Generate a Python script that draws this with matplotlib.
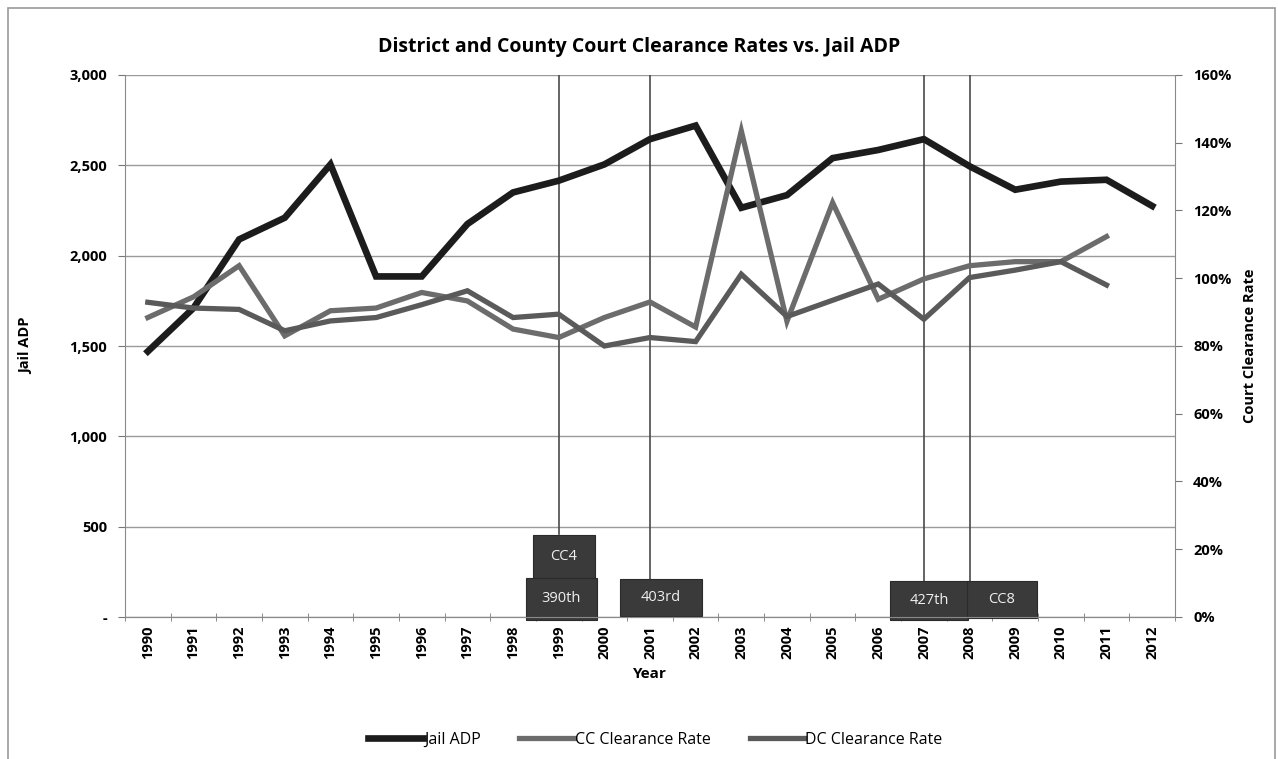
import numpy as np
import matplotlib
matplotlib.use("Agg")
import matplotlib.pyplot as plt
from matplotlib.patches import Rectangle
from matplotlib.ticker import FuncFormatter, MultipleLocator, FixedLocator

plt.rcParams["font.family"] = ["Open Sans", "DejaVu Sans"]

# data
years = list(range(1990, 2013))
jail_adp = [1470, 1710, 2090, 2210, 2505, 1885, 1885, 2175, 2350, 2415, 2505, 2645,
            2720, 2265, 2335, 2540, 2585, 2645, 2495, 2365, 2410, 2420, 2275]
cc_rate = [0.884, 0.945, 1.037, 0.830, 0.904, 0.912, 0.958, 0.933, 0.850, 0.825, 0.884, 0.930,
           0.856, 1.435, 0.873, 1.223, 0.938, 0.998, 1.037, 1.049, 1.049, 1.123, np.nan]
dc_rate = [0.929, 0.912, 0.908, 0.845, 0.874, 0.884, 0.922, 0.963, 0.884, 0.894, 0.800, 0.825,
           0.813, 1.012, 0.887, 0.935, 0.983, 0.879, 1.002, 1.024, 1.049, 0.980, np.nan]
event_years = [1999, 2001, 2007, 2008]

# annotation box layout: (label, x centre in category units, y centre in ADP units, w, h)
box_layout = [
    ("CC4", 9.11, 335, 1.36, 238),
    ("390th", 9.06, 100, 1.56, 232),
    ("403rd", 11.24, 108, 1.80, 205),
    ("427th", 17.11, 94, 1.71, 216),
    ("CC8", 18.71, 97, 1.53, 205),
]
event_tops = {1999: 458, 2001: 212, 2007: 200, 2008: 200}

JAIL = "#1c1c1c"
CC = "#6c6c6c"
DC = "#5a5a5a"
GRID = "#9a9a9a"

fig = plt.figure(figsize=(12.78, 7.59), dpi=100)
ax = fig.add_axes([125 / 1278, 1 - 617 / 759, 1050 / 1278, 542 / 759])
ax2 = ax.twinx()

x = np.arange(len(years))

# event markers
for yr in event_years:
    i = years.index(yr)
    ax.plot([i, i], [event_tops[yr], 3000], color="#4a4a4a", lw=1.2, zorder=2)
for lab, cx, cy, w, h in box_layout:
    ax.add_patch(Rectangle((cx - w / 2, cy - h / 2), w, h, facecolor="#3a3a3a",
                           edgecolor="#2a2a2a", lw=0.8, zorder=3, clip_on=False))
    ax.text(cx, cy, lab, ha="center", va="center", color="#f0f0f0", fontsize=10.5,
            zorder=4, clip_on=False)

l1, = ax.plot(x, jail_adp, color=JAIL, lw=4.8, solid_joinstyle="miter", zorder=5, label="Jail ADP")
l2, = ax2.plot(x, cc_rate, color=CC, lw=3.8, solid_joinstyle="miter", label="CC Clearance Rate")
l3, = ax2.plot(x, dc_rate, color=DC, lw=3.8, solid_joinstyle="miter", label="DC Clearance Rate")

ax.set_xlim(-0.5, len(years) - 0.5)
ax.set_ylim(0, 3000)
ax2.set_ylim(0, 1.6)

ax.yaxis.set_major_locator(MultipleLocator(500))
ax.yaxis.set_major_formatter(FuncFormatter(lambda v, p: "-" if v == 0 else f"{int(v):,}"))
ax2.yaxis.set_major_locator(MultipleLocator(0.2))
ax2.yaxis.set_major_formatter(FuncFormatter(lambda v, p: f"{v * 100:.0f}%"))
ax.grid(axis="y", color=GRID, lw=1.0)
ax.set_axisbelow(True)

ax.set_xticks(x)
ax.set_xticklabels([str(y) for y in years], rotation=90, fontweight="bold", fontsize=10.5)
ax.xaxis.set_minor_locator(FixedLocator(np.arange(-0.5, len(years), 1.0)))
ax.tick_params(axis="x", which="major", length=0, pad=6)
ax.tick_params(axis="x", which="minor", length=6, direction="inout", color="#777777")
ax.tick_params(axis="y", length=5, color="#777777", labelsize=10.5, pad=8)
ax2.tick_params(axis="y", length=5, color="#777777", labelsize=10.5, pad=8)
for lab in ax.get_yticklabels() + ax2.get_yticklabels():
    lab.set_fontweight("bold")

for a in (ax, ax2):
    a.spines["top"].set_visible(False)
    for s in ("left", "right", "bottom"):
        a.spines[s].set_color("#8a8a8a")
ax.spines["right"].set_visible(False)
ax2.spines["left"].set_visible(False)

ax.set_xlabel("Year", fontweight="bold", fontsize=11, labelpad=6)
ax.set_ylabel("Jail ADP", fontweight="bold", fontsize=10.5, labelpad=26)
ax2.set_ylabel("Court Clearance Rate", fontweight="bold", fontsize=10.5, labelpad=8)
fig.text(0.5, 1 - 47 / 759, "District and County Court Clearance Rates vs. Jail ADP",
         ha="center", va="center", fontweight="bold", fontsize=14)

fig.legend(handles=[l1, l2, l3], loc="center", bbox_to_anchor=(0.513, 1 - 740 / 759),
           ncol=3, frameon=False, fontsize=11.5, handlelength=3.4, handletextpad=0.1,
           columnspacing=2.4)

fig.add_artist(Rectangle((0.006, -0.01), 0.992, 0.999, transform=fig.transFigure,
                         fill=False, edgecolor="#9a9a9a", lw=1.2))

fig.savefig("out.png", dpi=100, facecolor="white")
